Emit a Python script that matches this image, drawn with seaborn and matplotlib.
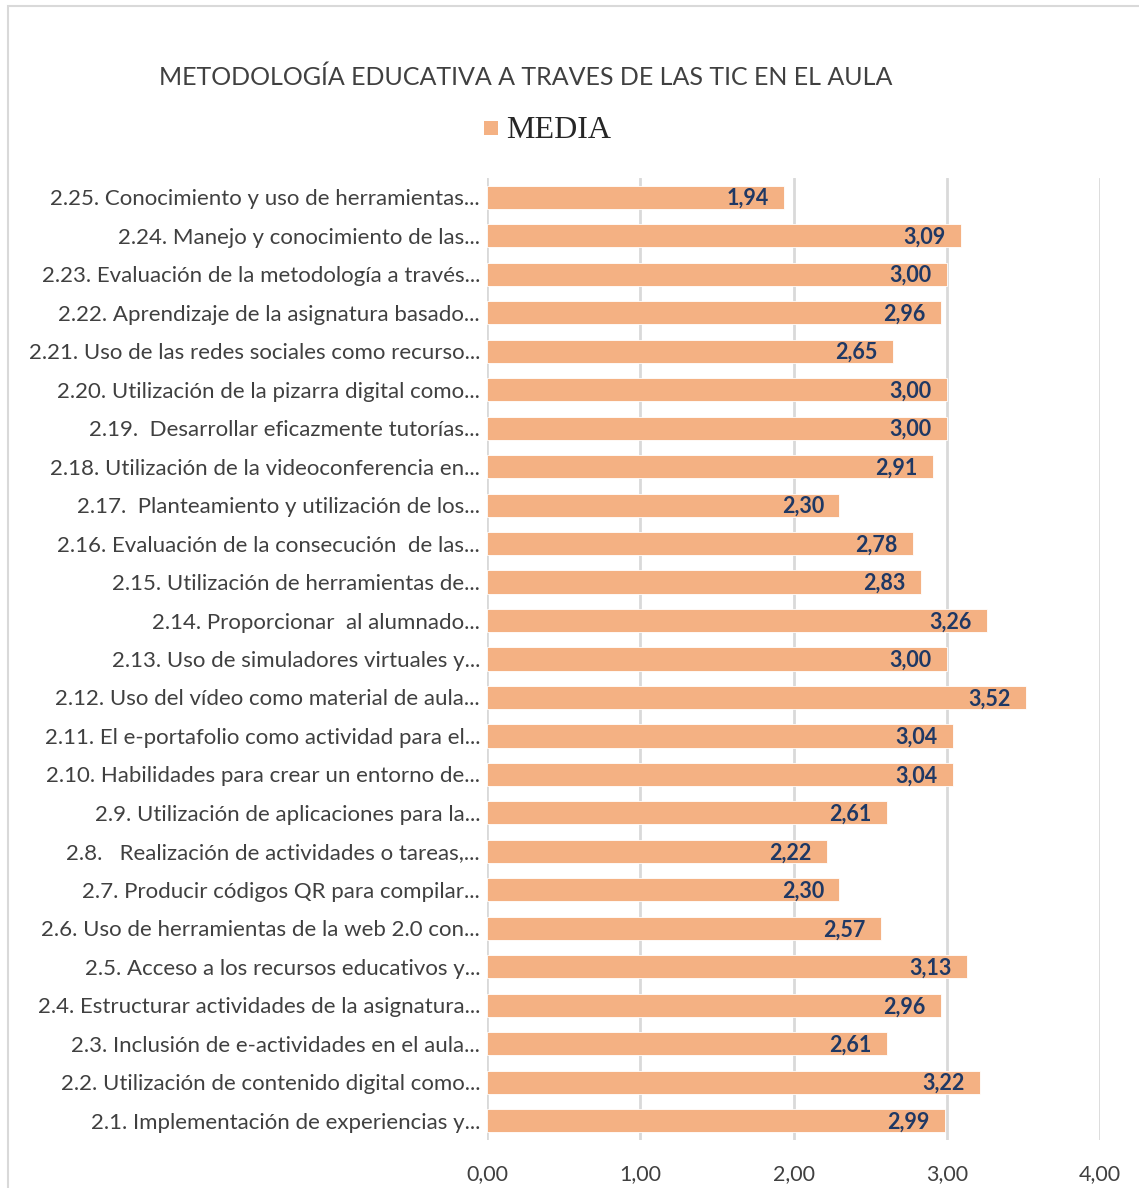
import matplotlib
matplotlib.use("Agg")
import matplotlib.pyplot as plt
import seaborn as sns
import pandas as pd
from matplotlib.patches import Rectangle

# Data (top to bottom as in the chart)
items = [
    "2.25. Conocimiento y uso de herramientas...",
    "2.24. Manejo y conocimiento de las...",
    "2.23. Evaluación de la metodología a través...",
    "2.22. Aprendizaje de la asignatura basado...",
    "2.21. Uso de las redes sociales como recurso...",
    "2.20. Utilización de la pizarra digital como...",
    "2.19.  Desarrollar eficazmente tutorías...",
    "2.18. Utilización de la videoconferencia en...",
    "2.17.  Planteamiento y utilización de los...",
    "2.16. Evaluación de la consecución  de las...",
    "2.15. Utilización de herramientas de...",
    "2.14. Proporcionar  al alumnado...",
    "2.13. Uso de simuladores virtuales y...",
    "2.12. Uso del vídeo como material de aula...",
    "2.11. El e-portafolio como actividad para el...",
    "2.10. Habilidades para crear un entorno de...",
    "2.9. Utilización de aplicaciones para la...",
    "2.8.   Realización de actividades o tareas,...",
    "2.7. Producir códigos QR para compilar...",
    "2.6. Uso de herramientas de la web 2.0 con...",
    "2.5. Acceso a los recursos educativos y...",
    "2.4. Estructurar actividades de la asignatura...",
    "2.3. Inclusión de e-actividades en el aula...",
    "2.2. Utilización de contenido digital como...",
    "2.1. Implementación de experiencias y...",
]
media = [1.94, 3.09, 3.00, 2.96, 2.65, 3.00, 3.00, 2.91, 2.30, 2.78, 2.83, 3.26, 3.00,
         3.52, 3.04, 3.04, 2.61, 2.22, 2.30, 2.57, 3.13, 2.96, 2.61, 3.22, 2.99]
x_ticks = [0, 1, 2, 3, 4]

df = pd.DataFrame({"item": items, "MEDIA": media})

BAR = "#F4B183"
TXT = "#404040"
NAVY = "#1F3864"

sns.set_style("white")
plt.rcParams['font.family'] = ['Lato', 'DejaVu Sans']

fig = plt.figure(figsize=(11.39, 11.88), dpi=100)
ax = fig.add_axes([487 / 1139, 1 - 1140 / 1188, (1100 - 487) / 1139, (1140 - 178) / 1188])

sns.barplot(data=df, y="item", x="MEDIA", orient="h", color=BAR, width=0.6,
            saturation=1, edgecolor="white", linewidth=0.6, ax=ax, zorder=3)

for i, v in enumerate(media):
    ax.annotate(f"{v:.2f}".replace(".", ","), xy=(v, i), xytext=(-11, -1),
                textcoords="offset points", ha="right", va="center",
                fontsize=15.5, fontweight="bold", color=NAVY, zorder=4)

ax.set_xlim(0, 4)
ax.set_ylim(24.5, -0.5)
ax.set_xticks(x_ticks)
ax.set_xticklabels([f"{t:.2f}".replace(".", ",") for t in x_ticks], fontsize=15.5, color=TXT)
ax.tick_params(axis="x", length=0, pad=17)
ax.tick_params(axis="y", length=0, pad=5, labelsize=16, labelcolor=TXT)
ax.set_xlabel("")
ax.set_ylabel("")
ax.grid(axis="x", color="#D9D9D9", linewidth=2, zorder=0)
for s in ax.spines.values():
    s.set_visible(False)

fig.text(526 / 1139, 1 - 77 / 1188, "METODOLOGÍA EDUCATIVA A TRAVES DE LAS TIC EN EL AULA",
         ha="center", va="center", fontsize=18, color=TXT)

# legend
fig.patches.append(Rectangle((484 / 1139, 1 - 135 / 1188), 14 / 1139, 14 / 1188,
                             transform=fig.transFigure, facecolor=BAR, edgecolor="none"))
fig.text(506 / 1139, 1 - 130 / 1188, "MEDIA", ha="left", va="center", fontsize=23,
         color="#262626", family=["Liberation Serif", "DejaVu Serif"])

# chart frame
fig.patches.append(Rectangle((8 / 1139, -0.05), 1.1, 1 - 6 / 1188 + 0.05, transform=fig.transFigure,
                             facecolor="none", edgecolor="#D9D9D9", linewidth=1.5))

fig.savefig("out.png", dpi=100)
